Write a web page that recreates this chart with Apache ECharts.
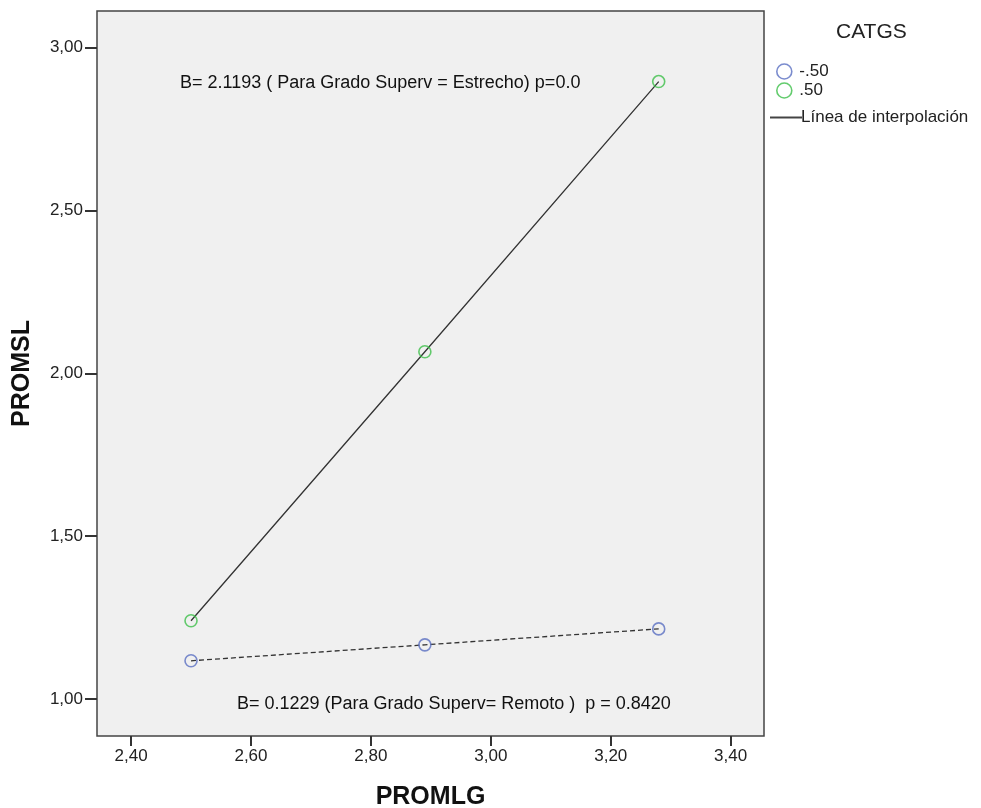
<!DOCTYPE html>
<html><head><meta charset="utf-8">
<script src="https://cdn.jsdelivr.net/npm/echarts@6/dist/echarts.min.js"></script>
<style>html,body{margin:0;padding:0;background:#fff}#c{width:981px;height:808px}</style>
</head><body><div id="c"></div>
<script>
const promLG = [2.50, 2.89, 3.28];
const promSLRemoto = [1.117, 1.166, 1.215];    // CATGS = -.50
const promSLEstrecho = [1.240, 2.066, 2.896];  // CATGS = .50
const xTicks = [2.40, 2.60, 2.80, 3.00, 3.20, 3.40];
const yTicks = [1.00, 1.50, 2.00, 2.50, 3.00];
const seriesNames = ['-.50', '.50'];
const lineName = 'Línea de interpolación';
const noteEstrecho = 'B= 2.1193 ( Para Grado Superv = Estrecho) p=0.0';
const noteRemoto = 'B= 0.1229 (Para Grado Superv= Remoto )  p = 0.8420';

const font = 'Liberation Sans, Arial, sans-serif';
const blue = '#5a6fc2', green = '#3dbf4a';
const pairs = (xs, ys) => xs.map((x, i) => [x, ys[i]]);
const fmt = v => v.toFixed(2).replace('.', ',');

const chart = echarts.init(document.getElementById('c'));
chart.setOption({
  animation: false,
  backgroundColor: '#ffffff',
  grid: { left: 97, top: 11, width: 667, height: 725, outerBoundsMode: 'none', containLabel: false, show: true, backgroundColor: '#f0f0f0', borderColor: '#444', borderWidth: 1.5 },
  xAxis: {
    type: 'value', min: 2.3432, max: 3.4556, interval: 0.2,
    name: 'PROMLG', nameLocation: 'middle', nameGap: 49,
    nameTextStyle: { fontFamily: font, fontSize: 25, fontWeight: 'bold', color: '#111' },
    axisLine: { show: false }, splitLine: { show: false },
    axisTick: { show: true, length: 10, lineStyle: { color: '#333', width: 2 }, customValues: xTicks },
    axisLabel: { fontFamily: font, fontSize: 17, color: '#222', margin: 12, formatter: fmt, customValues: xTicks, showMinLabel: true, showMaxLabel: true }
  },
  yAxis: {
    type: 'value', min: 0.886, max: 3.1127, interval: 0.5,
    name: 'PROMSL', nameLocation: 'middle', nameGap: 62, nameRotate: 90,
    nameTextStyle: { fontFamily: font, fontSize: 25, fontWeight: 'bold', color: '#111' },
    axisLine: { show: false }, splitLine: { show: false },
    axisTick: { show: true, length: 12, lineStyle: { color: '#333', width: 2 }, customValues: yTicks },
    axisLabel: { fontFamily: font, fontSize: 17, color: '#222', margin: 14, formatter: fmt, customValues: yTicks }
  },
  legend: [
    { orient: 'vertical', left: 771, top: 58, itemGap: 2, itemWidth: 16, itemHeight: 15,
      textStyle: { fontFamily: font, fontSize: 17, color: '#222', padding: [0,0,0,2] },
      data: [
        { name: seriesNames[0], icon: 'circle', itemStyle: { color: 'rgba(0,0,0,0)', borderColor: blue, borderWidth: 1.6 } },
        { name: seriesNames[1], icon: 'circle', itemStyle: { color: 'rgba(0,0,0,0)', borderColor: green, borderWidth: 1.6 } }
      ] },
    { orient: 'vertical', left: 765, top: 104, itemWidth: 32, itemHeight: 16, itemGap: 2,
      textStyle: { fontFamily: font, fontSize: 17, color: '#222', padding: [0,0,0,-6] },
      data: [{ name: lineName, icon: 'path://M0,7 L32,7 L32,9 L0,9 Z', itemStyle: { color: '#444', borderWidth: 0 } }] }
  ],
  graphic: [
    { type: 'text', left: 836, top: 22, style: { text: 'CATGS', font: '21px ' + font, fill: '#222' } },
    { type: 'text', left: 180, top: 74, style: { text: noteEstrecho, font: '18px ' + font, fill: '#111' } },
    { type: 'text', left: 237, top: 695, style: { text: noteRemoto, font: '18px ' + font, fill: '#111' } }
  ],
  series: [
    { name: lineName, type: 'line', data: pairs(promLG, promSLEstrecho), symbol: 'none', lineStyle: { color: '#333', width: 1.3 }, z: 2 },
    { name: 'remotoLine', type: 'line', data: pairs(promLG, promSLRemoto), symbol: 'none', lineStyle: { color: '#333', width: 1.3, type: [5, 3] }, z: 2 },
    { name: seriesNames[0], type: 'scatter', data: pairs(promLG, promSLRemoto), symbol: 'circle', symbolSize: 12,
      itemStyle: { color: 'rgba(0,0,0,0)', borderColor: blue, borderWidth: 1.6 }, z: 3 },
    { name: seriesNames[1], type: 'scatter', data: pairs(promLG, promSLEstrecho), symbol: 'circle', symbolSize: 12,
      itemStyle: { color: 'rgba(0,0,0,0)', borderColor: green, borderWidth: 1.6 }, z: 3 }
  ]
});
</script></body></html>
